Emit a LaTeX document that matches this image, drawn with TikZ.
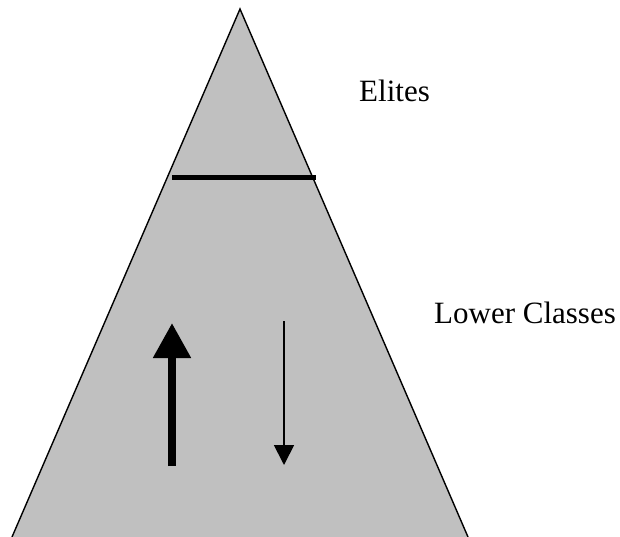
\documentclass[tikz,border=0pt]{standalone}
\usepackage{fontspec}
\setmainfont{Liberation Serif}
\usetikzlibrary{arrows.meta}
\begin{document}
\begin{tikzpicture}[x=1pt,y=-1pt,font=\fontsize{31}{36}\selectfont]
\useasboundingbox (0,0) rectangle (620,537);
% pyramid
\filldraw[fill={rgb,255:red,192;green,192;blue,192},line width=1.4pt,line join=miter] (12,537) -- (240,9) -- (468,537);
\draw[line width=4.5pt] (172,177.5) -- (316,177.5);
% labels
\node[anchor=base west,inner sep=0pt] (elites) at (359,102) {Elites};
\node[anchor=base west,inner sep=0pt] (lower) at (434,323) {Lower Classes};
% mobility arrows
\coordinate (upfrom) at (172,466); \coordinate (upto) at (172,323);
\coordinate (downfrom) at (284,321); \coordinate (downto) at (284,465);
\draw[line width=8pt,-{Triangle[length=35pt,width=36pt]}] (upfrom) -- (upto);
\draw[line width=1.8pt,-{Triangle[length=20pt,width=20pt]}] (downfrom) -- (downto);
\end{tikzpicture}
\end{document}
